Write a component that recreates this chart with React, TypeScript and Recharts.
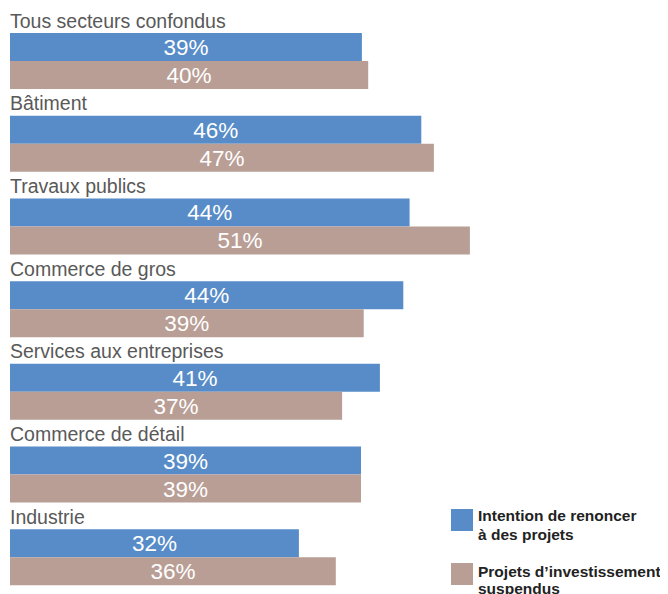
import { BarChart, Bar, XAxis, YAxis, LabelList } from "recharts";

// Sectors, top to bottom
const sectors = [
  "Tous secteurs confondus",
  "Bâtiment",
  "Travaux publics",
  "Commerce de gros",
  "Services aux entreprises",
  "Commerce de détail",
  "Industrie",
];

// % of firms (labels show the rounded value)
const renoncer = [39.1, 45.7, 44.4, 43.7, 41.1, 39.0, 32.1];
const suspendus = [39.8, 47.1, 51.1, 39.3, 36.9, 39.0, 36.2];

const seriesNames = [
  ["Intention de renoncer", "à des projets"],
  ["Projets d’investissement", "suspendus"],
];
const BLUE = "#578cc8";
const TAUPE = "#b99e96";

const data = sectors.map((name, i) => ({ name, renoncer: renoncer[i], suspendus: suspendus[i] }));

const FONT = '"Liberation Sans", Arial, sans-serif';

const pct = (v: number) => `${Math.round(v)}%`;

// sector name drawn just above the blue bar of each group
const renderSector = (props: any) => {
  const { x, y, value } = props;
  return (
    <text x={x} y={y - 5.5} fontSize={19.5} fill="#595959" fontFamily={FONT}>
      {value}
    </text>
  );
};

const LegendItem = ({
  color,
  lines,
  boxTop,
  textTop,
  lineGap,
}: {
  color: string;
  lines: string[];
  boxTop: number;
  textTop: number;
  lineGap: number;
}) => (
  <>
    <div style={{ position: "absolute", left: 443, top: boxTop, width: 22, height: 22, background: color }} />
    {lines.map((line, i) => (
      <div
        key={line}
        style={{
          position: "absolute",
          left: 470,
          top: textTop + i * lineGap,
          fontFamily: FONT,
          fontWeight: "bold",
          fontSize: 15.5,
          lineHeight: "18.5px",
          color: "#222",
          whiteSpace: "pre",
        }}
      >
        {line}
      </div>
    ))}
  </>
);

export default function App() {
  // page is 668x594: no scrollbars, the last legend line runs off the bottom like in the source
  return (
    <div style={{ position: "relative", width: 660, height: 600 }}>
      <style>{"html, body { overflow: hidden; }"}</style>
      <BarChart
        width={660}
        height={600}
        data={data}
        layout="vertical"
        margin={{ top: 12, right: 118, bottom: 9, left: 2 }}
        barGap={0}
      >
        <XAxis type="number" domain={[0, 60]} hide />
        <YAxis type="category" dataKey="name" hide />
        <Bar dataKey="renoncer" fill={BLUE} barSize={28} isAnimationActive={false}>
          <LabelList dataKey="name" content={renderSector} />
          <LabelList
            dataKey="renoncer"
            position="center"
            formatter={(v: any) => pct(v)}
            fill="#fff"
            fontSize={22.5}
            fontFamily={FONT}
          />
        </Bar>
        <Bar dataKey="suspendus" fill={TAUPE} barSize={28} isAnimationActive={false}>
          <LabelList
            dataKey="suspendus"
            position="center"
            formatter={(v: any) => pct(v)}
            fill="#fff"
            fontSize={22.5}
            fontFamily={FONT}
          />
        </Bar>
      </BarChart>
      <LegendItem color={BLUE} lines={seriesNames[0]} boxTop={501} textTop={499.1} lineGap={18.5} />
      <LegendItem color={TAUPE} lines={seriesNames[1]} boxTop={555.3} textTop={554.6} lineGap={17} />
    </div>
  );
}
